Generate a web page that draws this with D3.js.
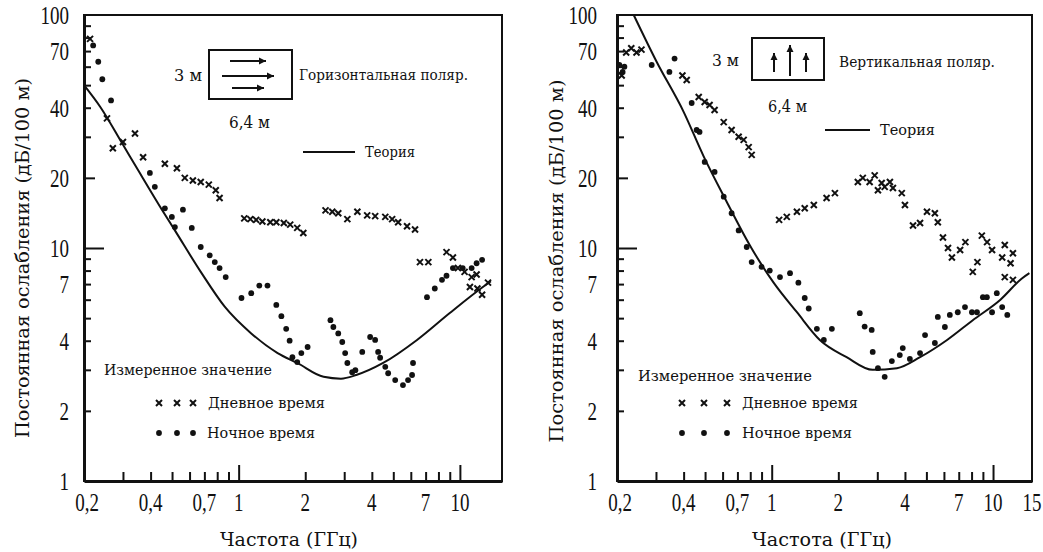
<!DOCTYPE html>
<html><head><meta charset="utf-8">
<script src="https://cdn.jsdelivr.net/npm/d3@7"></script>
<style>
body{margin:0;background:#fff}
svg{display:block;background:#fff}
text{fill:#111}
</style>
</head><body>
<svg id="chart" width="1043" height="552"></svg>
<script>
// ---------- data ----------
const yTickValues = [1, 2, 4, 7, 10, 20, 40, 70, 100];
const yTickLabels = ["1", "2", "4", "7", "10", "20", "40", "70", "100"];
const xTickValuesLeft = [0.2, 0.4, 0.7, 1, 2, 4, 7, 10];
const xTickLabelsLeft = ["0,2", "0,4", "0,7", "1", "2", "4", "7", "10"];
const xTickValuesRight = [0.2, 0.4, 0.7, 1, 2, 4, 7, 10, 15];
const xTickLabelsRight = ["0,2", "0,4", "0,7", "1", "2", "4", "7", "10", "15"];

// Horizontal polarisation (left panel): [frequency GHz, dB/100 m]
const hTheory = [[0.2,50],[0.237,40.3],[0.297,28.2],[0.351,21.6],[0.45,14.6],[0.515,11.9],[0.68,7.8],[0.865,5.6],[1.14,4.3],[1.5,3.54],[1.84,3.21],[2.42,2.8],[2.9,2.75],[3.4,2.85],[4.5,3.21],[6.4,4.03],[9.0,5.26],[12.7,6.8],[13.8,7.2]];
const hDay = [[0.213,79],[0.254,36],[0.27,26.8],[0.3,28.5],[0.34,31],[0.37,24.5],[0.464,23],[0.526,22],[0.571,20],[0.621,19.5],[0.674,19.2],[0.733,18.7],[0.788,17.7],[0.82,16.4],[1.06,13.4],[1.13,13.3],[1.2,13.2],[1.28,13.0],[1.39,12.9],[1.48,12.9],[1.6,12.8],[1.71,12.6],[1.84,12.2],[1.96,11.6],[2.47,14.5],[2.65,14.3],[2.82,14.1],[3.1,13.3],[3.44,14.3],[3.81,13.8],[4.14,13.7],[4.6,13.6],[4.94,13.3],[5.26,12.9],[5.77,12.4],[6.27,12.0],[6.6,8.7],[7.2,8.7],[8.7,9.6],[9.3,9.1],[9.8,8.2],[10.5,7.9],[11.3,7.5],[11.9,7.7],[11.1,6.8],[12.0,6.7],[12.6,6.3],[13.4,7.1]];
const hNight = [[0.22,74],[0.232,63],[0.242,53],[0.265,43],[0.397,21],[0.418,18.3],[0.464,14.8],[0.499,13.6],[0.515,12.3],[0.56,14.6],[0.614,12.2],[0.674,10.1],[0.74,9.3],[0.78,8.7],[0.82,8.2],[0.874,7.5],[1.03,6.1],[1.14,6.4],[1.24,6.9],[1.35,6.9],[1.48,5.7],[1.56,5.1],[1.64,4.5],[1.7,4.0],[1.75,3.4],[1.84,3.24],[1.92,3.54],[2.05,3.76],[2.6,4.9],[2.68,4.58],[2.82,4.3],[2.94,3.95],[3.03,3.54],[3.1,3.21],[3.26,2.93],[3.37,2.99],[3.62,3.58],[3.93,4.15],[4.14,4.03],[4.27,3.58],[4.36,3.38],[4.6,3.09],[4.74,2.9],[5.1,2.71],[5.53,2.58],[5.83,2.71],[6.08,2.85],[6.14,3.21],[7.1,6.15],[7.7,6.7],[8.3,7.3],[8.7,7.6],[9.3,8.2],[10.3,8.2],[11.3,8.2],[11.9,8.6],[12.6,8.9]];

// Vertical polarisation (right panel)
const vTheory = [[0.238,100],[0.302,63],[0.4,38.4],[0.492,24.8],[0.626,15.8],[0.795,10.3],[1.02,7.1],[1.3,5.3],[1.65,4.03],[2.18,3.4],[2.86,3.0],[3.68,3.05],[4.68,3.4],[6.2,4.03],[8.1,4.9],[10.8,6.0],[13.5,7.4],[14.6,7.8]];
const vDay = [[0.21,55],[0.22,69],[0.232,72],[0.245,69],[0.258,71],[0.395,55],[0.413,52.6],[0.468,44.5],[0.498,42.3],[0.524,41.1],[0.552,39.1],[0.607,34.7],[0.659,32.1],[0.709,30],[0.747,29.1],[0.787,27.1],[0.812,25.1],[1.08,13.2],[1.17,13.6],[1.3,14.3],[1.41,14.8],[1.55,15.3],[1.77,16.4],[1.93,17.2],[2.45,19.2],[2.58,20],[2.77,19.2],[2.92,20.5],[3.02,17.7],[3.14,19],[3.24,18.3],[3.42,19.2],[3.53,18.1],[3.87,17.2],[4.0,15.3],[4.35,12.5],[4.68,12.8],[5.03,14.3],[5.46,14.1],[5.63,12.9],[5.94,11.1],[6.26,10.0],[6.52,9.1],[7.1,9.8],[7.5,10.6],[8.1,7.9],[8.5,8.7],[8.9,11.3],[9.4,10.6],[9.9,9.8],[11.0,9.1],[11.3,10.3],[12.0,8.6],[12.3,9.5],[11.3,7.5],[12.3,7.3]];
const vNight = [[0.205,61],[0.216,60],[0.212,57],[0.287,61],[0.345,57],[0.364,65],[0.435,41.9],[0.458,32.1],[0.472,31.5],[0.498,23.4],[0.552,21.2],[0.607,16.6],[0.659,14.1],[0.709,11.9],[0.771,10.1],[0.812,8.7],[0.9,8.3],[0.98,8.0],[1.09,7.5],[1.21,7.8],[1.32,7.1],[1.41,6.1],[1.47,5.5],[1.6,4.5],[1.72,4.03],[1.87,4.5],[2.5,5.25],[2.63,4.6],[2.83,4.45],[2.86,3.58],[3.02,3.05],[3.24,2.8],[3.49,3.27],[3.79,3.47],[3.91,3.72],[4.21,3.34],[4.68,3.54],[4.93,4.23],[5.46,3.91],[5.63,5.06],[6.06,4.58],[6.38,5.16],[6.93,5.3],[7.47,5.58],[8.03,5.3],[8.46,5.3],[9.0,6.15],[9.38,6.15],[9.9,5.3],[10.4,6.4],[11.0,5.58],[11.6,5.16]];

const yTitle = "Постоянная ослабления (дБ/100 м)";
const xTitle = "Частота (ГГц)";

// ---------- drawing ----------
const FONT = '"DejaVu Serif","Liberation Serif",serif';
const DIGITFONT = '"Liberation Serif","DejaVu Serif",serif';
const svg = d3.select("#chart");
svg.append("rect").attr("width",1043).attr("height",552).attr("fill","#fff");

const yMinor = [];
[1,10].forEach(d => { for (let k=1;k<=9;k++) yMinor.push(k*d); });
const xMinor = [];
[0.1,1].forEach(d => { for (let k=1;k<=9;k++) { const v=+(k*d).toFixed(2); if (v>=0.3) xMinor.push(v); } });
xMinor.push(10);

function stretchText(g, x, y, str, anchor, size, sx, sy) {
  g.append("text")
    .attr("transform", `translate(${x},${y}) scale(${sx},${sy})`)
    .attr("text-anchor", anchor).attr("dy", "0.35em")
    .attr("font-family", DIGITFONT)
    .attr("font-size", size).text(str);
}

function drawPanel(cfg) {
  const x = d3.scaleLog().domain(cfg.xDomain).range([cfg.x0, cfg.x1]);
  const y = d3.scaleLog().domain([1, 100]).range([481, 15]);
  const g = svg.append("g").attr("font-family", FONT);

  // frame
  g.append("rect").attr("x", cfg.x0).attr("y", 15).attr("width", cfg.x1 - cfg.x0).attr("height", 466)
    .attr("fill", "none").attr("stroke", "#111").attr("stroke-width", 2);

  // y axis (inward ticks)
  const ya = g.append("g").attr("transform", `translate(${cfg.x0},0)`)
    .call(d3.axisLeft(y).tickValues(yMinor).tickSizeInner(-7).tickSizeOuter(0).tickFormat(""));
  ya.select(".domain").attr("stroke-width", 3).attr("stroke", "#111");
  ya.selectAll(".tick line").attr("stroke-width", 2).attr("stroke", "#111")
    .attr("x2", d => d === 10 ? 20 : (d === 20 ? 11 : (d === 1 ? 0 : 7)));

  // x axis (inward ticks)
  const xa = g.append("g").attr("transform", `translate(0,481)`)
    .call(d3.axisBottom(x).tickValues(xMinor).tickSizeInner(-8).tickSizeOuter(0).tickFormat(""));
  xa.select(".domain").attr("stroke-width", 3).attr("stroke", "#111");
  xa.selectAll(".tick line").attr("stroke-width", 2).attr("stroke", "#111")
    .attr("y2", d => (d === 1 || d === 10) ? -16 : -9);

  // tick labels
  yTickValues.forEach((v, i) => stretchText(g, cfg.yLabelX, y(v), yTickLabels[i], "end", 19, 1, 1.35));
  cfg.xTicks.forEach((v, i) => stretchText(g, x(v) + (i === 0 ? 3 : 0), 502, cfg.xLabels[i], "middle", 19, 1, 1.35));

  // titles
  g.append("text").attr("transform", `translate(${cfg.yTitleX},${cfg.yTitleY}) rotate(-90)`)
    .attr("text-anchor", "middle").attr("dy", "0.35em").attr("font-size", 18)
    .attr("textLength", cfg.yTitleLen).attr("lengthAdjust", "spacingAndGlyphs").text(yTitle);
  g.append("text").attr("x", cfg.xTitleX).attr("y", 546).attr("font-size", 19)
    .attr("textLength", cfg.xTitleLen).attr("lengthAdjust", "spacingAndGlyphs").text(xTitle);

  // theory curve
  const line = d3.line().x(d => x(d[0])).y(d => y(d[1])).curve(d3.curveMonotoneX);
  g.append("path").datum(cfg.theory).attr("d", line).attr("fill", "none")
    .attr("stroke", "#111").attr("stroke-width", 2);

  // night dots
  g.selectAll(null).data(cfg.night).enter().append("circle")
    .attr("cx", d => x(d[0])).attr("cy", d => y(d[1])).attr("r", 2.9).attr("fill", "#111");
  // day crosses
  g.selectAll(null).data(cfg.day).enter().append("path")
    .attr("transform", d => `translate(${x(d[0])},${y(d[1])})`)
    .attr("d", "M-3,-3L3,3M-3,3L3,-3").attr("stroke", "#111").attr("stroke-width", 2);

  // legend
  const L = cfg.legend;
  const txt = (tx, ty, s, size, len) => {
    const t = g.append("text").attr("x", tx).attr("y", ty).attr("dy", "0.35em").attr("font-size", size).text(s);
    if (len) t.attr("textLength", len).attr("lengthAdjust", "spacingAndGlyphs");
  };
  g.append("rect").attr("x", L.box[0]).attr("y", L.box[1]).attr("width", L.box[2]).attr("height", L.box[3])
    .attr("fill", "#fff").attr("stroke", "#111").attr("stroke-width", 2);
  L.arrows.forEach(a => {
    g.append("line").attr("x1", a[0]).attr("y1", a[1]).attr("x2", a[2]).attr("y2", a[3])
      .attr("stroke", "#111").attr("stroke-width", 2);
    const ang = Math.atan2(a[3] - a[1], a[2] - a[0]);
    const hx = a[2], hy = a[3], s = 7;
    const p1 = [hx - s * Math.cos(ang) + 3.5 * Math.sin(ang), hy - s * Math.sin(ang) - 3.5 * Math.cos(ang)];
    const p2 = [hx - s * Math.cos(ang) - 3.5 * Math.sin(ang), hy - s * Math.sin(ang) + 3.5 * Math.cos(ang)];
    g.append("path").attr("d", `M${hx},${hy}L${p1}L${p2}Z`).attr("fill", "#111");
  });
  txt(L.m3[0], L.m3[1], "3 м", 16, L.m3[2]);
  txt(L.m64[0], L.m64[1], "6,4 м", 16, L.m64[2]);
  txt(L.pol[0], L.pol[1], L.polText, 14, L.pol[2]);
  g.append("line").attr("x1", L.theoryLine[0]).attr("x2", L.theoryLine[1])
    .attr("y1", L.theoryLine[2]).attr("y2", L.theoryLine[2]).attr("stroke", "#111").attr("stroke-width", 2);
  txt(L.theory[0], L.theory[1], "Теория", 14, L.theory[2]);
  txt(L.meas[0], L.meas[1], "Измеренное значение", 14, L.meas[2]);
  L.dayMarks.forEach(mx => g.append("path").attr("transform", `translate(${mx},403)`)
    .attr("d", "M-3,-3L3,3M-3,3L3,-3").attr("stroke", "#111").attr("stroke-width", 2));
  txt(L.day[0], 403, "Дневное время", 14, L.day[1]);
  L.dayMarks.forEach(mx => g.append("circle").attr("cx", mx).attr("cy", 433).attr("r", 2.9).attr("fill", "#111"));
  txt(L.night[0], 433, "Ночное время", 14, L.night[1]);
}

drawPanel({
  xDomain: [0.2, 15.5], x0: 84, x1: 502, yLabelX: 69,
  xTicks: xTickValuesLeft, xLabels: xTickLabelsLeft,
  yTitleX: 23, yTitleY: 258, yTitleLen: 360, xTitleX: 220, xTitleLen: 138,
  theory: hTheory, day: hDay, night: hNight,
  legend: {
    box: [209, 50, 83, 49],
    arrows: [[230, 61, 266, 61], [222, 76, 274, 76], [232, 88, 264, 88]],
    m3: [174, 75, 28], m64: [229, 122, 41], pol: [299, 75, 169],
    polText: "Горизонтальная поляр.",
    theoryLine: [303, 355, 152], theory: [365, 152, 50],
    meas: [104, 370, 168], dayMarks: [159, 177, 193], day: [208, 117], night: [207, 108]
  }
});

drawPanel({
  xDomain: [0.2, 15], x0: 617, x1: 1032, yLabelX: 597,
  xTicks: xTickValuesRight, xLabels: xTickLabelsRight,
  yTitleX: 557, yTitleY: 261, yTitleLen: 363, xTitleX: 752, xTitleLen: 140,
  theory: vTheory, day: vDay, night: vNight,
  legend: {
    box: [752, 38, 72, 42],
    arrows: [[774, 72, 774, 53], [790, 76, 790, 45], [806, 72, 806, 53]],
    m3: [712, 60, 27], m64: [768, 106, 39], pol: [839, 62, 156],
    polText: "Вертикальная поляр.",
    theoryLine: [825, 870, 130], theory: [880, 130, 55],
    meas: [638, 376, 174], dayMarks: [682, 704, 727], day: [742, 116], night: [742, 110]
  }
});
</script>
</body></html>
